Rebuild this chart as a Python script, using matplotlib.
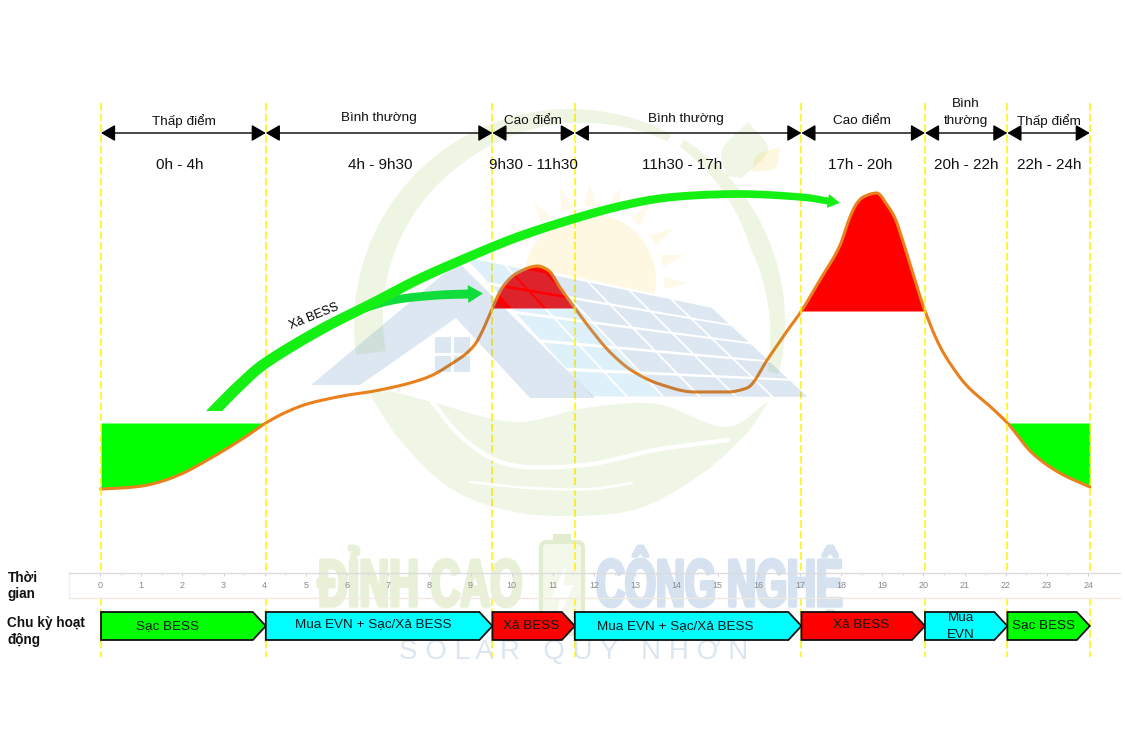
import numpy as np
import matplotlib
matplotlib.use("Agg")
import matplotlib.pyplot as plt
import matplotlib.patheffects as pe
from matplotlib.patches import Polygon, Rectangle, FancyBboxPatch
from matplotlib.transforms import Affine2D

plt.rcParams['font.family'] = ['Liberation Sans', 'DejaVu Sans']

# ---------- data ----------
hours = [0, .5, 1, 1.5, 2, 2.5, 3, 3.5, 4, 4.5, 5, 5.5, 6, 6.5, 7, 7.5, 8, 8.5, 8.88, 9.1, 9.27, 9.5,
         9.75, 10.1, 10.6, 10.85, 11.15, 11.5, 11.9, 12.35, 12.9, 13.55, 14.4, 15.2, 15.68,
         16.2, 16.6, 17, 17.45, 17.94, 18.18, 18.35, 18.5, 18.83, 19.08, 19.27, 19.4, 19.7, 20,
         20.37, 20.7, 21, 21.65, 22, 22.6, 23.27, 24]
load = [261, 262, 264, 269, 277, 288, 300, 313, 327, 338, 346, 351, 355, 358, 362, 367, 374, 386, 397, 407, 420, 442,
        463, 477, 484, 480, 462, 442, 420, 398, 379, 366, 358, 358, 362,
        392, 416, 439, 470, 505, 533, 547, 553, 557, 545, 532, 517, 477, 439,
        403, 381, 365, 341, 327, 297, 277, 263]

level_green = 327
level_red_am = 442
level_red_pm = 439

boundaries = [0, 4, 9.5, 11.5, 17, 20, 22, 24]
period_names = ['Thấp điểm', 'Bình thường', 'Cao điểm', 'Bình thường', 'Cao điểm', 'Bình\nthường', 'Thấp điểm']
period_times = ['0h - 4h', '4h - 9h30', '9h30 - 11h30', '11h30 - 17h', '17h - 20h', '20h - 22h', '22h - 24h']
name_x = [184, 379, 533, 686, 862, 966, 1049]
name_y = [121, 118, 121, 119, 121, 112.5, 121]
time_x = [180, 380, 533, 682, 860, 966, 1049]

cycle_labels = ['Sạc BESS', 'Mua EVN + Sạc/Xả BESS', 'Xả BESS', 'Mua EVN + Sạc/Xả BESS', 'Xả BESS', 'Mua\nEVN', 'Sạc BESS']
cycle_colors = ['#00FF00', '#00FFFF', '#FF0000', '#00FFFF', '#FF0000', '#00FFFF', '#00FF00']
cycle_x = [168, 373, 531, 675, 861, 961, 1044]
cycle_y = [626, 624, 626, 626, 625, 626.5, 625]

timeline_hours = list(range(25))

W, H = 1125, 750
PX0, PXH = 101.0, 41.2
hour_lim = (-PX0 / PXH, (W - PX0) / PXH)
S0, S1, ST, SB = 69, 1120, 573, 598

fig = plt.figure(figsize=(11.25, 7.5), dpi=100, facecolor='white')


def layer(z, xlim, ylim):
    a = fig.add_axes([0, 0, 1, 1], zorder=z, facecolor='none')
    a.set_xlim(*xlim)
    a.set_ylim(*ylim)
    a.axis('off')
    return a


def smooth(pts, n=10):
    """Rounded drawing path through decoration points."""
    p = np.asarray(pts, float)
    p = np.r_[[2 * p[0] - p[1]], p, [2 * p[-1] - p[-2]]]
    out = []
    for k in range(1, len(p) - 2):
        for t in np.linspace(0, 1, n, endpoint=False):
            out.append(.5 * (2 * p[k] + (p[k + 1] - p[k - 1]) * t + (2 * p[k - 1] - 5 * p[k] + 4 * p[k + 1] - p[k + 2]) * t ** 2
                             + (3 * p[k] - p[k - 1] - 3 * p[k + 1] + p[k + 2]) * t ** 3))
    out.append(p[-2])
    return np.array(out)


def rounded_curve(x, y, n=8):
    """Monotone cubic drawing path through the read values (no overshoot)."""
    x, y = np.asarray(x, float), np.asarray(y, float)
    dx = np.diff(x)
    s = np.diff(y) / dx
    m = np.zeros_like(y)
    m[0], m[-1] = s[0], s[-1]
    for i in range(1, len(x) - 1):
        if s[i - 1] * s[i] > 0:
            w1, w2 = 2 * dx[i] + dx[i - 1], dx[i] + 2 * dx[i - 1]
            m[i] = (w1 + w2) / (w1 / s[i - 1] + w2 / s[i])
    xs, ys = [], []
    for i in range(len(dx)):
        t = np.linspace(0, 1, n, endpoint=False)
        xs.append(x[i] + t * dx[i])
        ys.append((2 * t ** 3 - 3 * t ** 2 + 1) * y[i] + (t ** 3 - 2 * t ** 2 + t) * dx[i] * m[i]
                  + (-2 * t ** 3 + 3 * t ** 2) * y[i + 1] + (t ** 3 - t ** 2) * dx[i] * m[i + 1])
    return np.r_[np.concatenate(xs), x[-1]], np.r_[np.concatenate(ys), y[-1]]


# ---------- chart ----------
ax = layer(1, hour_lim, (0, H))
h, v = rounded_curve(hours, load)
ax.fill_between(h, v, level_green, where=h <= 4, color='#00FF00', lw=0, zorder=2)
ax.fill_between(h, v, level_green, where=h >= 22, color='#00FF00', lw=0, zorder=2)
ax.fill_between(h, v, level_red_am, where=(h >= 9.5) & (h <= 11.5), color='#FF0000', lw=0, zorder=2)
ax.fill_between(h, v, level_red_pm, where=(h >= 17) & (h <= 20), color='#FF0000', lw=0, zorder=2)
ax.plot(h, v, color='#E9801C', lw=2.2, solid_joinstyle='round', zorder=3)

# ---------- watermark lettering, below the strip ticks ----------
base = layer(1.2, (0, W), (H, 0))
base.add_patch(Rectangle((S0, ST), S1 - S0, SB - ST, fc='white', lw=0))


class Squeeze(pe.AbstractPathEffect):
    """Draw a text's glyphs condensed horizontally and slightly heavier."""
    def __init__(self, sx, stroke=0):
        super().__init__()
        self.sx, self.stroke = sx, stroke

    def draw_path(self, renderer, gc, tpath, affine, rgbFace=None):
        g = renderer.new_gc()
        g.copy_properties(gc)
        g.set_linewidth(self.stroke)
        g.set_foreground(rgbFace)
        renderer.draw_path(g, tpath, Affine2D().scale(self.sx, 1) + affine, rgbFace)
        g.restore()


base.text(318, 606, 'ĐỈNH CAO', fontsize=48, fontweight='bold', color='#E8F1D8', ha='left', va='baseline',
          path_effects=[Squeeze(.62, 2.5)])
base.text(596, 606, 'CÔNG NGHỆ', fontsize=48, fontweight='bold', color='#D6E2F0', ha='left', va='baseline',
          path_effects=[Squeeze(.60, 2.5)])
base.add_patch(FancyBboxPatch((541, 542), 42, 92, boxstyle='round,pad=0,rounding_size=6', fc='#F4F8EA',
                              ec='#E2EDCF', lw=3))
base.add_patch(Rectangle((553, 534), 18, 8, fc='#E2EDCF', lw=0))
base.add_patch(Polygon([(566, 565), (551, 598), (560, 598), (556, 622), (574, 585), (564, 585)], fc='white', lw=0))
base.text(574, 659, 'S O L A R   Q U Y   N H Ơ N', fontsize=20, color='#DCE6F1', ha='center', va='baseline')

# dashed period boundaries
dash = layer(1.3, hour_lim, (H, 0))
for b in boundaries:
    dash.plot([b, b], [103, ST], color='#FFF200', lw=1.1, ls=(0, (5, 2)))
    dash.plot([b, b], [SB, 657], color='#FFF200', lw=1.1, ls=(0, (5, 2)))

# ---------- timeline strip (a real axis) ----------
st = fig.add_axes([S0 / W, 1 - SB / H, (S1 - S0) / W, (SB - ST) / H], zorder=1.5, facecolor='none')
st.set_xlim((S0 - 100) / 41.17, (S1 - 100) / 41.17)
st.set_ylim(0, 1)
st.xaxis.tick_top()
st.set_xticks(timeline_hours)
st.set_xticklabels([str(t) for t in timeline_hours], fontsize=6.5, color='#8a8a8a')
st.set_xticks(np.arange(0.5, 24.5, 1), minor=True)
st.tick_params(axis='x', which='major', direction='in', length=2.5, color='#d0d0d0', width=.7, pad=-12.5)
st.tick_params(axis='x', which='minor', direction='in', length=1.5, color='#d8d8d8', width=.6)
st.set_yticks([])
for s, c in zip(['top', 'bottom', 'left', 'right'], ['#dcdcdc', '#efe9e0', '#f0f0f0', 'none']):
    st.spines[s].set_color(c)
    st.spines[s].set_linewidth(1)

# ---------- watermark logo (pixel coordinates) ----------
wm = layer(2, (0, W), (H, 0))
GREEN, BLUE, YEL = '#7FB52A', '#2E6DB0', '#F7C81E'


def ring(cx, cy, r, a0, a1, t0, t1, tm):
    a = np.radians(np.linspace(a0, a1, 80))
    th = np.interp(np.linspace(0, 1, 80), [0, .5, 1], [t0, tm, t1])
    o = np.c_[cx + r * np.cos(a), cy - r * np.sin(a)]
    i = np.c_[cx + (r - th) * np.cos(a), cy - (r - th) * np.sin(a)]
    return np.r_[o, i[::-1]]


wm.add_patch(Polygon(ring(570, 325, 216, 188, 62, 30, 8, 22), fc=GREEN, alpha=.13, lw=0))
wm.add_patch(Polygon(ring(570, 322, 215, 58, -14, 8, 12, 20), fc=GREEN, alpha=.13, lw=0))

# sun
sa = np.radians(np.linspace(-12, 168, 60))
wm.add_patch(Polygon(np.c_[590 + 66 * np.cos(sa), 280 - 66 * np.sin(sa)], fc=YEL, alpha=.12, lw=0))
for deg in [-2, 15, 32, 52, 72, 90, 108, 126, 146]:
    d = np.radians(deg)
    u = np.array([np.cos(d), -np.sin(d)])
    n = np.array([u[1], -u[0]])
    c0 = np.array([590, 280]) + u * 74
    wm.add_patch(Polygon([c0 + n * 6, c0 - n * 6, c0 + u * 24], fc=YEL, alpha=.1, lw=0))

# solar panel cells
TL, TR, BR, BL = map(np.array, [(462., 255.), (712., 307.), (810., 398.), (592., 398.)])
NC, NR = 6, 5


def P(u, v_):
    return (1 - v_) * ((1 - u) * TL + u * TR) + v_ * ((1 - u) * BL + u * BR)


for i in range(NC):
    for j in range(NR):
        gu, gv = .006, .012
        us, ue = i / NC + gu, (i + 1) / NC - gu
        vs, ve = j / NR + gv, (j + 1) / NR - gv
        col = '#5DB4E6' if i < 2 else BLUE
        wm.add_patch(Polygon([P(us, vs), P(ue, vs), P(ue, ve), P(us, ve)], fc=col, alpha=.2 if i < 2 else .16, lw=0))

# house roof and window
wm.add_patch(Polygon([(311, 385), (458, 262), (595, 398), (530, 398), (456, 318), (360, 385)], fc=BLUE, alpha=.16, lw=0))
for wx, wy in [(435, 337), (454, 337), (435, 356), (454, 356)]:
    wm.add_patch(Rectangle((wx, wy), 16, 16, fc=BLUE, alpha=.16, lw=0))

# lower bowl leaf
outer = smooth([(367, 390), (400, 440), (450, 488), (510, 511), (575, 516), (640, 508), (700, 475), (745, 435), (768, 402)])
inner = smooth([(768, 402), (725, 427), (657, 404), (586, 408), (514, 422), (432, 402), (395, 392)])
wm.add_patch(Polygon(np.r_[outer, inner], fc=GREEN, alpha=.12, lw=0))
sw = smooth([(432, 402), (465, 440), (511, 465), (585, 465), (655, 450), (728, 440)])
wm.plot(sw[:, 0], sw[:, 1], color='white', lw=3.2, solid_capstyle='round')
sw2 = smooth([(470, 482), (530, 488), (590, 489), (632, 483)])
wm.plot(sw2[:, 0], sw2[:, 1], color='white', lw=1.8, solid_capstyle='round')

# top-right leaves
big = np.r_[smooth([(727, 176), (722, 150), (748, 122)]), smooth([(748, 122), (768, 150), (742, 178)])]
wm.add_patch(Polygon(big, fc=GREEN, alpha=.12, lw=0))
small = np.r_[smooth([(752, 172), (757, 155), (780, 147)]), smooth([(780, 147), (775, 168), (752, 172)])]
wm.add_patch(Polygon(small, fc=YEL, alpha=.14, lw=0))

# ---------- segments (hours on x, pixels on y) ----------
seg = layer(3, hour_lim, (H, 0))
for a, b in zip(boundaries[:-1], boundaries[1:]):
    seg.annotate('', xy=(a, 133), xytext=(b, 133),
                 arrowprops=dict(arrowstyle='<|-|>,head_length=0.62,head_width=0.36', mutation_scale=14,
                                 shrinkA=0, shrinkB=0, color='black', lw=1))
TIP = 13 / PXH
for a, b, c in zip(boundaries[:-1], boundaries[1:], cycle_colors):
    seg.add_patch(Polygon([(a, 612), (b - TIP, 612), (b, 626), (b - TIP, 640), (a, 640)], closed=True,
                          fc=c, ec='#101010', lw=1.3, joinstyle='miter'))

# ---------- arrows and labels (pixel coordinates) ----------
top = layer(4, (0, W), (H, 0))


def ribbon(center, w0, w1, head_w, head_len, color, clip_bottom=None):
    c = smooth(center)
    d = np.gradient(c, axis=0)
    d /= np.linalg.norm(d, axis=1, keepdims=True)
    n = np.c_[-d[:, 1], d[:, 0]]
    w = np.linspace(w0, w1, len(c))[:, None] / 2
    end = c[-1]
    tip = end + d[-1] * head_len
    pts = np.r_[c + n * w, [end + n[-1] * head_w], [tip], [end - n[-1] * head_w], (c - n * w)[::-1]]
    patch = Polygon(pts, fc=color, lw=0)
    top.add_patch(patch)
    if clip_bottom is not None:
        patch.set_clip_path(Rectangle((0, 0), W, clip_bottom, transform=top.transData))


short_center = [(362, 309), (385, 302), (407, 298), (440, 295), (468, 294)]
long_center = [(207, 419), (217, 408), (241, 384), (267, 362), (320, 330), (373, 303), (415, 281), (457, 262), (515, 238),
               (573, 219), (625, 205), (673, 197), (740, 194), (800, 197), (828, 201)]
ribbon(short_center, 8, 9, 9, 15, '#10DC3C')
ribbon(long_center, 12, 7, 7, 12, '#14F014', clip_bottom=411)
top.text(314, 316, 'Xả BESS', rotation=22, fontsize=9, ha='center', va='center', rotation_mode='anchor')

for s, x, y in zip(period_names, name_x, name_y):
    top.text(x, y, s, fontsize=9.7, ha='center', va='center', color='#111111', linespacing=1.5)
for s, x in zip(period_times, time_x):
    top.text(x, 165, s, fontsize=11, ha='center', va='center', color='#111111')
for s, x, y in zip(cycle_labels, cycle_x, cycle_y):
    top.text(x, y, s, fontsize=9.7, ha='center', va='center', color='#0a1a1a', linespacing=1.5)

top.text(8, 578, 'Thời', fontsize=9.8, fontweight='bold', va='center', color='#111111')
top.text(8, 594, 'gian', fontsize=9.8, fontweight='bold', va='center', color='#111111')
top.text(7, 623, 'Chu kỳ hoạt', fontsize=9.8, fontweight='bold', va='center', color='#111111')
top.text(7, 640, 'động', fontsize=9.8, fontweight='bold', va='center', color='#111111')

fig.savefig('out.png', dpi=100, facecolor='white')
